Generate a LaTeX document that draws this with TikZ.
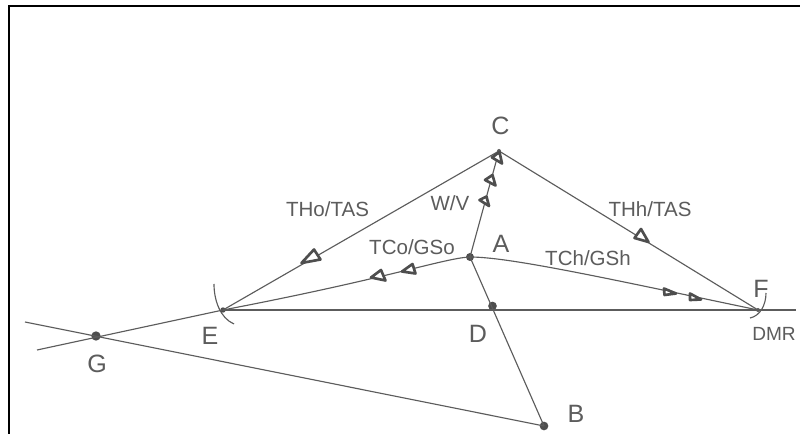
\documentclass[tikz,border=0pt]{standalone}
\usepackage{fontspec}
\setmainfont{Liberation Sans}
\definecolor{ink}{gray}{0.36}
\tikzset{
  x=0.75pt,y=-0.75pt,
  pt/.style={circle,fill=ink!85!black,draw=none,inner sep=0pt,minimum size=7.5pt},
  smallpt/.style={circle,fill=ink,draw=none,inner sep=0pt,minimum size=3pt},
  lab/.style={anchor=base,inner sep=0pt,text=ink,font=\fontsize{15.4}{18}\selectfont},
  biglab/.style={anchor=base,inner sep=0pt,text=ink,font=\fontsize{18.8}{22}\selectfont},
  dmrlab/.style={anchor=base,inner sep=0pt,text=ink,font=\fontsize{14.3}{17}\selectfont},
  wire/.style={draw=ink,line width=0.85pt},
  frameline/.style={draw=black,line width=1.5pt},
  tri/.style={draw=ink!85!black,fill=white,line width=2pt,line join=round}
}
\begin{document}
\begin{tikzpicture}
\useasboundingbox (0,0) rectangle (800,434);
\fill[white] (0,0) rectangle (800,434);
\coordinate (fa) at (800,6);
\coordinate (fb) at (8.5,6);
\coordinate (fc) at (8.5,434);
\draw[frameline] (fa) -- (fb) -- (fc);
% points
\node[pt,minimum size=6pt] (A) at (470,257) {};
\node[smallpt] (C) at (499,151) {};
\node[pt,minimum size=6.5pt] (D) at (492.5,306) {};
\node[pt,minimum size=6.5pt] (B) at (544,426) {};
\node[pt,minimum size=4pt] (E) at (223,310) {};
\node[smallpt] (F) at (758,310) {};
\node[pt,minimum size=7pt] (G) at (96,336) {};
\coordinate (Gu) at (25,322);
\coordinate (Gl) at (37,350);
\coordinate (Fr) at (796,310);
\coordinate (Ea) at (214,284);
\coordinate (Eb) at (234,324);
\coordinate (Fa) at (766,293);
\coordinate (Fb) at (750,318);
% connectors
\draw[wire] (E.center) -- (Fr);
\draw[wire] (Gl) -- (E.center);
\draw[wire] (Gu) -- (B.center);
\draw[wire] (E.center) -- (C.center) -- (F.center);
\draw[wire] (A.center) -- (C.center);
\draw[wire] (A.center) -- (B.center);
\draw[wire] (A.center) .. controls (445,258) and (390,278) .. (E.center);
\draw[wire] (A.center) .. controls (510,257) and (610,279) .. (F.center);
\draw[wire] (Ea) .. controls (214,300) and (220,318) .. (Eb);
\draw[wire] (Fa) .. controls (766,305) and (760,316) .. (Fb);
% arrow triangles
\draw[tri] (301.5,263) -- (314,249.5) -- (320.5,259.5) -- cycle;
\draw[tri] (371,277.5) -- (381,270) -- (385.5,280.5) -- cycle;
\draw[tri] (402,271.5) -- (412.5,264) -- (415.5,273.5) -- cycle;
\draw[tri] (664,288.5) -- (664.5,295) -- (676,293.5) -- cycle;
\draw[tri] (690,293.5) -- (690,300) -- (701,299.5) -- cycle;
\draw[tri] (634.5,238) -- (641,229) -- (648.5,242) -- cycle;
\draw[tri] (492,157.5) -- (499.5,152) -- (502,163.5) -- cycle;
\draw[tri] (485,180) -- (492.5,175) -- (495.5,185.5) -- cycle;
\draw[tri] (479.5,200) -- (486.5,196.5) -- (489,206) -- cycle;
% labels
\node[lab] (l1) at (327.5,217) {THo/TAS};
\node[lab] (l2) at (412,255) {TCo/GSo};
\node[lab] (l3) at (450,211) {W/V};
\node[lab] (l4) at (650,217) {THh/TAS};
\node[lab] (l5) at (588,266) {TCh/GSh};
\node[biglab] (l6) at (500.5,135) {C};
\node[biglab] (l7) at (501,253) {A};
\node[biglab] (l8) at (478,343) {D};
\node[biglab] (l9) at (210,345) {E};
\node[biglab] (l10) at (97,373) {G};
\node[biglab] (l11) at (576,423) {B};
\node[biglab] (l12) at (761,298) {F};
\node[dmrlab] (l13) at (774,341) {DMR};
\end{tikzpicture}
\end{document}
